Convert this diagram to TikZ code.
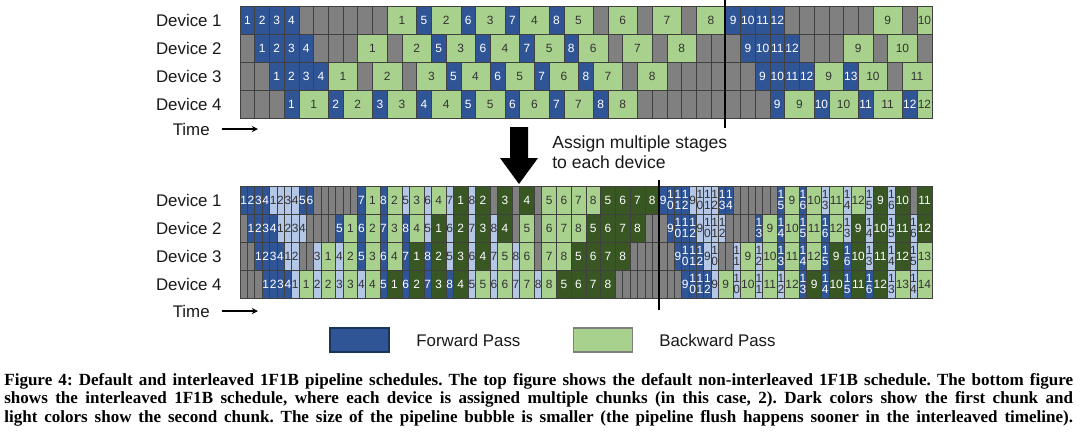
\documentclass[tikz,border=0pt]{standalone}
\usepackage{fontspec}
\usepackage{etoolbox}
\setmainfont{Liberation Sans}
\newfontfamily\capfont{Liberation Serif}
\usetikzlibrary{calc}

\definecolor{fdark}{RGB}{47,85,151}
\definecolor{flight}{RGB}{180,199,231}
\definecolor{bdark}{RGB}{56,87,35}
\definecolor{blight}{RGB}{169,209,142}
\definecolor{idlegray}{RGB}{128,128,128}
\definecolor{gridline}{RGB}{64,64,64}

\tikzset{
	cell/.style={draw=gridline, line width=0.3pt, inner sep=0pt, outer sep=0pt, align=center, font=\fontsize{6.8}{6.2}\selectfont},
	fd/.style={cell, fill=fdark, text=white},
	fl/.style={cell, fill=flight, text=black!80},
	bd/.style={cell, fill=bdark, text=white},
	bl/.style={cell, fill=blight, text=black!80},
	idle/.style={fill=idlegray, draw=gridline, line width=0.3pt},
	labeltext/.style={inner sep=0pt, text=black!90, font=\fontsize{9.6}{11.4}\selectfont},
	timearrow/.style={->, >=stealth, line width=0.6pt, shorten <=7pt},
	divider/.style={line width=1.7pt, black},
	legbox/.style={minimum width=1.18cm, minimum height=0.48cm, line width=0.6pt, inner sep=0pt},
	caption/.style={anchor=west, inner sep=0pt, font=\capfont\bfseries\frenchspacing\fontsize{9.7}{10}\selectfont}
}

\newcommand\stk[2]{#1\\#2}
% #1 name prefix, #2 slot width (px), #3 top (px), #4 slots, #5 kind/length/label
\newcommand\schedrow[5]{%
	\foreach \i in {1,...,#4}
		\draw[idle] (240+\i*#2-#2,#3) rectangle ++(#2,28);
	\gdef\slotpos{0}%
	\foreach \kind/\len/\lab in {#5}{%
		\ifdefstring{\kind}{nil}{}{%
			\node[\kind, anchor=north west, minimum width={\len*#2*0.02cm}, minimum height=0.56cm] (#1-\slotpos) at (240+\slotpos*#2,#3) {\lab};}%
		\pgfmathtruncatemacro\nextpos{\slotpos+\len}%
		\xdef\slotpos{\nextpos}}%
}

\begin{document}
\begin{tikzpicture}[x=0.02cm, y=-0.02cm]
	%%%%% START %%%%%
	\fill[white] (0,0) rectangle (1080,437);
	\useasboundingbox (0,0) rectangle (1080,437);
	
	% default 1F1B
	\schedrow{ta}{14.72}{6}{47}{fd/1/1, fd/1/2, fd/1/3, fd/1/4, nil/6/{}, bl/2/1, fd/1/5, bl/2/2, fd/1/6, bl/2/3, fd/1/7, bl/2/4, fd/1/8, bl/2/5, nil/1/{}, bl/2/6, nil/1/{}, bl/2/7, nil/1/{}, bl/2/8, fd/1/9, fd/1/10, fd/1/11, fd/1/12, nil/6/{}, bl/2/9, nil/1/{}, bl/1/10}
	\schedrow{tb}{14.72}{34}{47}{nil/1/{}, fd/1/1, fd/1/2, fd/1/3, fd/1/4, nil/3/{}, bl/2/1, nil/1/{}, bl/2/2, fd/1/5, bl/2/3, fd/1/6, bl/2/4, fd/1/7, bl/2/5, fd/1/8, bl/2/6, nil/1/{}, bl/2/7, nil/1/{}, bl/2/8, nil/3/{}, fd/1/9, fd/1/10, fd/1/11, fd/1/12, nil/3/{}, bl/2/9, nil/1/{}, bl/2/10}
	\schedrow{tc}{14.72}{62}{47}{nil/2/{}, fd/1/1, fd/1/2, fd/1/3, fd/1/4, bl/2/1, nil/1/{}, bl/2/2, nil/1/{}, bl/2/3, fd/1/5, bl/2/4, fd/1/6, bl/2/5, fd/1/7, bl/2/6, fd/1/8, bl/2/7, nil/1/{}, bl/2/8, nil/6/{}, fd/1/9, fd/1/10, fd/1/11, fd/1/12, bl/2/9, fd/1/13, bl/2/10, nil/1/{}, bl/2/11}
	\schedrow{td}{14.72}{90}{47}{nil/3/{}, fd/1/1, bl/2/1, fd/1/2, bl/2/2, fd/1/3, bl/2/3, fd/1/4, bl/2/4, fd/1/5, bl/2/5, fd/1/6, bl/2/6, fd/1/7, bl/2/7, fd/1/8, bl/2/8, nil/9/{}, fd/1/9, bl/2/9, fd/1/10, bl/2/10, fd/1/11, bl/2/11, fd/1/12, bl/1/12}
	
	% interleaved 1F1B
	\schedrow{ba}{7.36}{186}{94}{fd/1/1, fd/1/2, fd/1/3, fd/1/4, fl/1/1, fl/1/2, fl/1/3, fl/1/4, fd/1/5, fd/1/6, nil/6/{}, fd/1/7, bl/2/1, fd/1/8, bl/2/2, fl/1/5, bl/2/3, fl/1/6, bl/2/4, fl/1/7, bd/2/1, fl/1/8, bd/2/2, nil/1/{}, bd/2/3, nil/1/{}, bd/2/4, nil/1/{}, bl/2/5, bl/2/6, bl/2/7, bl/2/8, bd/2/5, bd/2/6, bd/2/7, bd/2/8, fd/1/9, fd/1/\stk10, fd/1/\stk11, fd/1/\stk12, fl/1/9, fl/1/\stk10, fl/1/\stk11, fl/1/\stk12, fd/1/\stk13, fd/1/\stk14, nil/6/{}, fd/1/\stk15, bl/2/9, fd/1/\stk16, bl/2/10, fl/1/\stk13, bl/2/11, fl/1/\stk14, bl/2/12, fl/1/\stk15, bd/2/9, fl/1/\stk16, bd/2/10, nil/1/{}, bd/2/11}
	\schedrow{bb}{7.36}{214}{94}{nil/1/{}, fd/1/1, fd/1/2, fd/1/3, fd/1/4, fl/1/1, fl/1/2, fl/1/3, fl/1/4, nil/4/{}, fd/1/5, bl/2/1, fd/1/6, bl/2/2, fd/1/7, bl/2/3, fd/1/8, bl/2/4, fl/1/5, bd/2/1, fl/1/6, bd/2/2, fl/1/7, bd/2/3, fl/1/8, bd/2/4, nil/1/{}, bl/2/5, nil/1/{}, bl/2/6, bl/2/7, bl/2/8, bd/2/5, bd/2/6, bd/2/7, bd/2/8, nil/3/{}, fd/1/9, fd/1/\stk10, fd/1/\stk11, fd/1/\stk12, fl/1/9, fl/1/\stk10, fl/1/\stk11, fl/1/\stk12, nil/4/{}, fd/1/\stk13, bl/2/9, fd/1/\stk14, bl/2/10, fd/1/\stk15, bl/2/11, fd/1/\stk16, bl/2/12, fl/1/\stk13, bd/2/9, fl/1/\stk14, bd/2/10, fl/1/\stk15, bd/2/11, fl/1/\stk16, bd/2/12}
	\schedrow{bc}{7.36}{242}{94}{nil/2/{}, fd/1/1, fd/1/2, fd/1/3, fd/1/4, fl/1/1, fl/1/2, nil/2/{}, fl/1/3, bl/2/1, fl/1/4, bl/2/2, fd/1/5, bl/2/3, fd/1/6, bl/2/4, fd/1/7, bd/2/1, fd/1/8, bd/2/2, fl/1/5, bd/2/3, fl/1/6, bd/2/4, fl/1/7, bl/2/5, fl/1/8, bl/2/6, nil/1/{}, bl/2/7, bl/2/8, bd/2/5, bd/2/6, bd/2/7, bd/2/8, nil/6/{}, fd/1/9, fd/1/\stk10, fd/1/\stk11, fd/1/\stk12, fl/1/9, fl/1/\stk10, nil/2/{}, fl/1/\stk11, bl/2/9, fl/1/\stk12, bl/2/10, fd/1/\stk13, bl/2/11, fd/1/\stk14, bl/2/12, fd/1/\stk15, bd/2/9, fd/1/\stk16, bd/2/10, fl/1/\stk13, bd/2/11, fl/1/\stk14, bd/2/12, fl/1/\stk15, bl/2/13}
	\schedrow{bd}{7.36}{270}{94}{nil/3/{}, fd/1/1, fd/1/2, fd/1/3, fd/1/4, fl/1/1, bl/2/1, fl/1/2, bl/2/2, fl/1/3, bl/2/3, fl/1/4, bl/2/4, fd/1/5, bd/2/1, fd/1/6, bd/2/2, fd/1/7, bd/2/3, fd/1/8, bd/2/4, fl/1/5, bl/2/5, fl/1/6, bl/2/6, fl/1/7, bl/2/7, fl/1/8, bl/2/8, bd/2/5, bd/2/6, bd/2/7, bd/2/8, nil/9/{}, fd/1/9, fd/1/\stk10, fd/1/\stk11, fd/1/\stk12, fl/1/9, bl/2/9, fl/1/\stk10, bl/2/10, fl/1/\stk11, bl/2/11, fl/1/\stk12, bl/2/12, fd/1/\stk13, bd/2/9, fd/1/\stk14, bd/2/10, fd/1/\stk15, bd/2/11, fd/1/\stk16, bd/2/12, fl/1/\stk13, bl/2/13, fl/1/\stk14, bl/2/14}
	
	% flush lines
	\draw[divider] (725,0) -- (725,128);
	\draw[divider] (659,180) -- (659,310);
	
	% device labels
	\foreach \d in {1,...,4}{
		\node[labeltext, anchor=east] (topdev\d) at (222,{20+28*(\d-1)}) {Device \d};
		\node[labeltext, anchor=east] (botdev\d) at (222,{200+28*(\d-1)}) {Device \d};
	}
	
	\node[labeltext, anchor=east] (toptime) at (210,129) {Time};
	\coordinate (toptimeend) at (258,129);
	\draw[timearrow] (toptime) -- (toptimeend);
	\node[labeltext, anchor=east] (bottime) at (210,311) {Time};
	\coordinate (bottimeend) at (258,311);
	\draw[timearrow] (bottime) -- (bottimeend);
	
	% assign arrow
	\fill[black] (510,127) -- (528,127) -- (528,158) -- (538,158) -- (519,184) -- (500,158) -- (510,158) -- cycle;
	\node[labeltext, anchor=west, align=left, font=\fontsize{10}{11.4}\selectfont] (assign) at (552,152) {Assign multiple stages\\to each device};
	
	% legend
	\node[legbox, fill=fdark, draw=fdark!60!black] (fwdkey) at (359.5,340) {};
	\node[labeltext, anchor=west] (fwdtext) at (416,340) {Forward Pass};
	\node[legbox, fill=blight, draw=black!50] (bwdkey) at (603,340) {};
	\node[labeltext, anchor=west] (bwdtext) at (659,340) {Backward Pass};
	
	% caption
	\node[caption] (cap1) at (4,381) {\makebox[21.38cm][s]{Figure 4: Default and interleaved 1F1B pipeline schedules. The top figure shows the default non-interleaved 1F1B schedule. The bottom figure}};
	\node[caption] (cap2) at (4,399.5) {\makebox[21.38cm][s]{shows the interleaved 1F1B schedule, where each device is assigned multiple chunks (in this case, 2). Dark colors show the first chunk and}};
	\node[caption] (cap3) at (4,418) {\makebox[21.38cm][s]{light colors show the second chunk. The size of the pipeline bubble is smaller (the pipeline flush happens sooner in the interleaved timeline).}};
	%%%%% END %%%%%
\end{tikzpicture}
\end{document}
